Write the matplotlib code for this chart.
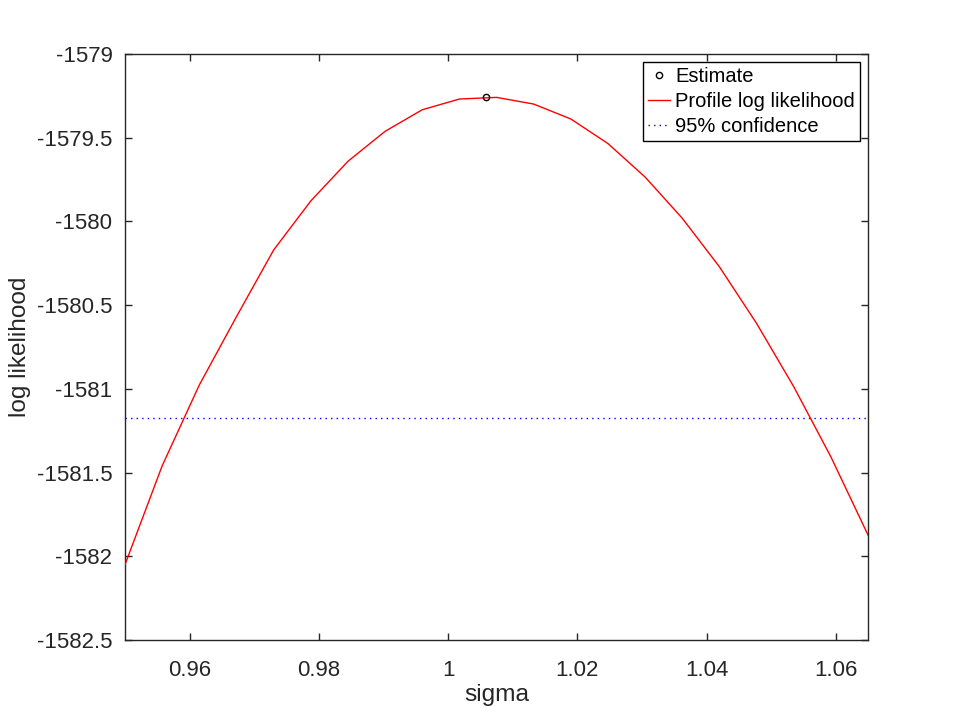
import numpy as np
import matplotlib
matplotlib.use("Agg")
import matplotlib.pyplot as plt
from matplotlib.ticker import FuncFormatter

# profile log likelihood
sigma = [0.95, 0.95575, 0.9615, 0.96725, 0.973, 0.97875, 0.9845, 0.99025,
         0.996, 1.00175, 1.0075, 1.01325, 1.019, 1.02475, 1.0305, 1.03625,
         1.042, 1.04775, 1.0535, 1.05925, 1.065]
loglik = [-1582.05, -1581.46, -1580.977, -1580.569, -1580.171, -1579.878,
          -1579.641, -1579.462, -1579.333, -1579.269, -1579.259, -1579.299,
          -1579.388, -1579.535, -1579.735, -1579.981, -1580.271, -1580.609,
          -1580.987, -1581.406, -1581.873]
est_sigma = 1.0058
est_loglik = -1579.257
conf_level = -1581.177

xticks = [0.96, 0.98, 1.0, 1.02, 1.04, 1.06]
yticks = [-1582.5, -1582, -1581.5, -1581, -1580.5, -1580, -1579.5, -1579]

plt.rcParams['font.family'] = ['Liberation Sans', 'DejaVu Sans']
dark = '#262626'

fig = plt.figure(figsize=(9.6, 7.2), dpi=100)
ax = fig.add_axes([0.1302, 0.1111, 0.7740, 0.8139])

ax.plot([est_sigma], [est_loglik], 'o', mfc='none', mec='black', ms=4.5, mew=1,
        label='Estimate', zorder=4)
ax.plot(sigma, loglik, '-', color='red', lw=1, label='Profile log likelihood', zorder=3)
ax.axhline(conf_level, color='blue', ls=(0, (1, 3)), lw=1, label='95% confidence')

ax.set_xlim(0.95, 1.065)
ax.set_ylim(-1582.5, -1579)
ax.set_xticks(xticks)
ax.set_yticks(yticks)
fmt = FuncFormatter(lambda v, p: '%g' % v)
ax.xaxis.set_major_formatter(fmt)
ax.yaxis.set_major_formatter(fmt)

ax.tick_params(direction='in', length=5, width=1, top=True, right=True,
               labelsize=16, colors=dark)
ax.tick_params(axis='x', pad=14.5)
ax.tick_params(axis='y', pad=9)
for s in ax.spines.values():
    s.set_color(dark)
    s.set_linewidth(1)

ax.set_xlabel('sigma', fontsize=17.6, color=dark, labelpad=2)
ax.set_ylabel('log likelihood', fontsize=17.6, color=dark, labelpad=4)

leg = ax.legend(loc='upper right', fontsize=14.5, frameon=True, fancybox=False,
                borderaxespad=0.4, handlelength=1.1, handletextpad=0.25,
                borderpad=0.25, labelspacing=0.3)
leg.get_frame().set_edgecolor('black')
leg.get_frame().set_linewidth(1)
leg.get_frame().set_alpha(1)

fig.savefig('out.png', dpi=100)
